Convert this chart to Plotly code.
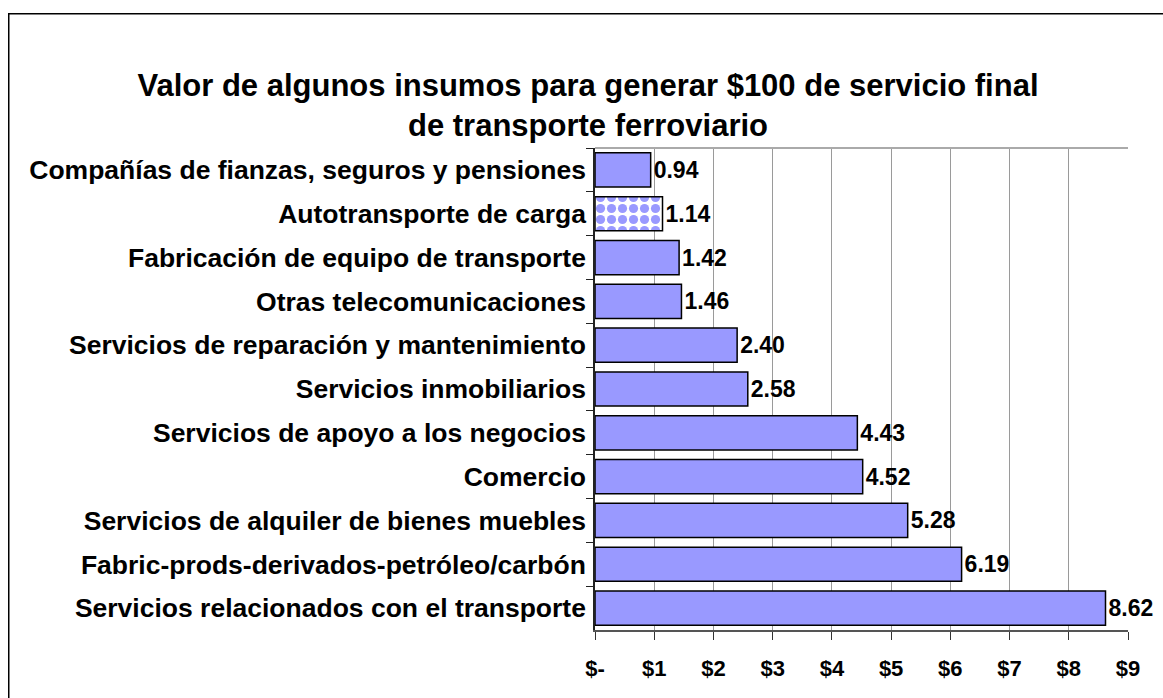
import plotly.graph_objects as go

categories = [
    "Compañías de fianzas, seguros y pensiones",
    "Autotransporte de carga",
    "Fabricación de equipo de transporte",
    "Otras telecomunicaciones",
    "Servicios de reparación y mantenimiento",
    "Servicios inmobiliarios",
    "Servicios de apoyo a los negocios",
    "Comercio",
    "Servicios de alquiler de bienes muebles",
    "Fabric-prods-derivados-petróleo/carbón",
    "Servicios relacionados con el transporte",
]
values = [0.94, 1.14, 1.42, 1.46, 2.40, 2.58, 4.43, 4.52, 5.28, 6.19, 8.62]
highlight = "Autotransporte de carga"
tick_vals = [0, 1, 2, 3, 4, 5, 6, 7, 8, 9]
tick_text = ["$-", "$1", "$2", "$3", "$4", "$5", "$6", "$7", "$8", "$9"]
title_text = "Valor de algunos insumos para generar $100 de servicio final<br>de transporte ferroviario"

W, H = 1163, 698
ML, MR, MT, MB = 595, 35, 148, 68
pw = W - ML - MR
ph = H - MT - MB

FILL = "#9999FF"
FONT = "Liberation Sans, Arial, sans-serif"

shapes_pat = ["." if c == highlight else "" for c in categories]

fig = go.Figure()
fig.add_trace(go.Bar(
    y=categories,
    x=values,
    orientation="h",
    text=[f"{v:.2f}" for v in values],
    textposition="outside",
    cliponaxis=False,
    textfont=dict(family=FONT, size=23, color="black", weight="bold"),
    marker=dict(
        color=FILL,
        line=dict(color="#000000", width=1.5),
        pattern=dict(
            shape=shapes_pat,
            fgcolor=FILL,
            bgcolor="#FFFFFF",
            size=11,
            solidity=0.55,
            fillmode="replace",
        ),
    ),
    hoverinfo="skip",
))

fig.update_layout(
    width=W, height=H,
    margin=dict(l=ML, r=MR, t=MT, b=MB),
    paper_bgcolor="white",
    plot_bgcolor="white",
    bargap=0.22,
    showlegend=False,
    title=dict(
        text=title_text,
        x=588 / W, xanchor="center",
        y=1 - 96 / H, yanchor="middle",
        font=dict(family=FONT, size=31, color="black", weight="bold"),
    ),
    font=dict(family=FONT),
)

fig.update_xaxes(
    range=[0, 9],
    tickvals=tick_vals,
    ticktext=tick_text,
    showgrid=True,
    gridcolor="#9a9a9a",
    gridwidth=1,
    zeroline=False,
    showline=True,
    linecolor="#555555",
    linewidth=2,
    ticks="outside",
    ticklen=8,
    tickcolor="#333333",
    tickfont=dict(family=FONT, size=22, color="black", weight="bold"),
    ticklabelstandoff=10,
)
fig.update_yaxes(
    autorange="reversed",
    type="category",
    tickson="boundaries",
    showgrid=False,
    showline=True,
    linecolor="#222222",
    linewidth=1.5,
    ticks="outside",
    ticklen=7,
    tickcolor="#222222",
    tickfont=dict(family=FONT, size=26.5, color="black", weight="bold"),
    ticklabelstandoff=2,
)

# top edge of plot area (gray) and outer chart frame
fig.add_shape(type="line", xref="paper", yref="paper", x0=0, x1=1, y0=1, y1=1,
              line=dict(color="#aaaaaa", width=2))
fig.add_shape(type="rect", xref="paper", yref="paper",
              x0=(8.75 - ML) / pw, x1=(W + 10 - ML) / pw,
              y0=-(20 + MB) / ph, y1=(H - MB - 13.75) / ph,
              line=dict(color="black", width=1.5), fillcolor="rgba(0,0,0,0)")

# remove the browser's default 8px page margin so the figure fills the window
fig.write_html(
    "out.html",
    config={"displayModeBar": False},
    post_script="document.body.style.margin='0';"
                "document.body.style.overflow='hidden';"
                "document.documentElement.style.overflow='hidden';",
)
